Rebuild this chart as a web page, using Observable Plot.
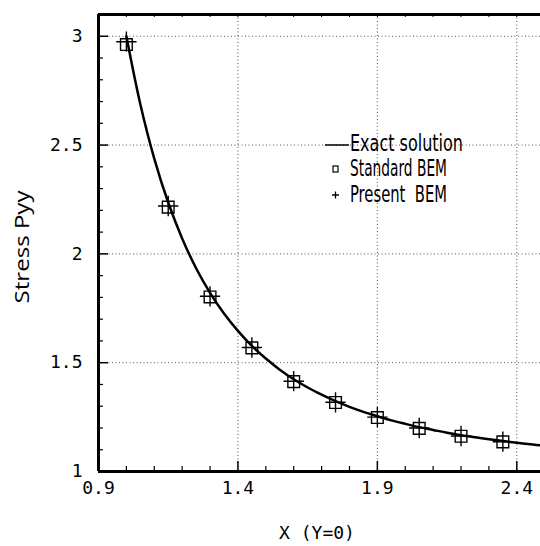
<!DOCTYPE html>
<html>
<head>
<meta charset="utf-8">
<script src="https://cdn.jsdelivr.net/npm/d3@7"></script>
<script src="https://cdn.jsdelivr.net/npm/@observablehq/plot@0.6"></script>
<style>
  html, body { margin: 0; padding: 0; background: #fff; }
  svg { display: block; }
</style>
</head>
<body>
<div id="chart"></div>
<script>
// Exact solution curve
const xExact = [1.00,1.05,1.10,1.15,1.20,1.25,1.30,1.35,1.40,1.45,1.50,1.55,1.60,1.65,1.70,1.75,1.80,1.85,1.90,1.95,2.00,2.05,2.10,2.15,2.20,2.25,2.30,2.35,2.40,2.45,2.50];
const yExact = [3.000,2.688,2.438,2.236,2.071,1.934,1.821,1.726,1.646,1.577,1.519,1.468,1.424,1.386,1.353,1.323,1.297,1.274,1.254,1.235,1.219,1.204,1.191,1.178,1.167,1.157,1.148,1.140,1.132,1.125,1.118];
// BEM sample points
const xBEM = [1.00,1.15,1.30,1.45,1.60,1.75,1.90,2.05,2.20,2.35];
const yStandard = [2.962,2.215,1.802,1.568,1.413,1.317,1.248,1.198,1.162,1.136];
const yPresent  = [2.975,2.220,1.805,1.570,1.415,1.318,1.250,1.200,1.163,1.137];
// Axis ticks
const xTicks = [0.9,1.4,1.9,2.4];
const yTicks = [1,1.5,2,2.5,3];
const xMinor = [1.0,1.1,1.2,1.3,1.5,1.6,1.7,1.8,2.0,2.1,2.2,2.3];
const yMinor = [1.1,1.2,1.3,1.4,1.6,1.7,1.8,1.9,2.1,2.2,2.3,2.4,2.6,2.7,2.8,2.9];
const xDomain = [0.9, 2.485];
const yDomain = [1, 3.1];

const exact = xExact.map((x, i) => ({x, y: yExact[i]}));
const standard = xBEM.map((x, i) => ({x, y: yStandard[i]}));
const present = xBEM.map((x, i) => ({x, y: yPresent[i]}));

const W = 540, H = 546, mL = 98, mT = 14, mR = 0, mB = 75;
const pxX = (xDomain[1] - xDomain[0]) / (W - mL - mR);
const pxY = (yDomain[1] - yDomain[0]) / (H - mT - mB);

const mono = "DejaVu Sans Mono, monospace";

const plot = Plot.plot({
  width: W, height: H,
  marginLeft: mL, marginTop: mT, marginRight: mR, marginBottom: mB,
  style: {background: "#fff", fontFamily: mono},
  x: {domain: xDomain, ticks: xTicks},
  y: {domain: yDomain, ticks: yTicks},
  marks: [
    // dotted grid
    Plot.ruleX(xTicks.slice(1), {stroke: "#555", strokeWidth: 1, strokeDasharray: "1,2.5"}),
    Plot.ruleY(yTicks.slice(1), {stroke: "#555", strokeWidth: 1, strokeDasharray: "1,2.5"}),
    // minor & major inward ticks (left)
    Plot.ruleY(yMinor, {x1: xDomain[0], x2: xDomain[0] + 5 * pxX, stroke: "#000", strokeWidth: 1.2}),
    Plot.ruleY(yTicks, {x1: xDomain[0], x2: xDomain[0] + 10 * pxX, stroke: "#000", strokeWidth: 1.5}),
    // bottom
    Plot.ruleX(xMinor, {y1: yDomain[0], y2: yDomain[0] + 5 * pxY, stroke: "#000", strokeWidth: 1.2}),
    Plot.ruleX(xTicks, {y1: yDomain[0], y2: yDomain[0] + 10 * pxY, stroke: "#000", strokeWidth: 1.5}),
    // top
    Plot.ruleX(xMinor.concat(xTicks), {y1: yDomain[1], y2: yDomain[1] - 3 * pxY, stroke: "#000", strokeWidth: 1}),
    // frame
    Plot.ruleX([xDomain[0]], {stroke: "#000", strokeWidth: 3}),
    Plot.ruleY([yDomain[0]], {stroke: "#000", strokeWidth: 3}),
    Plot.ruleY([yDomain[1]], {stroke: "#000", strokeWidth: 3}),
    // axes labels
    Plot.axisX({ticks: xTicks, tickSize: 0, tickPadding: 10, fontSize: 18, fontFamily: mono, label: null, tickFormat: d => String(d)}),
    Plot.axisY({ticks: yTicks, tickSize: 0, tickPadding: 16, fontSize: 18, fontFamily: mono, label: null, tickFormat: d => String(d)}),
    // exact curve
    Plot.line(exact, {x: "x", y: "y", stroke: "#000", strokeWidth: 2.5, curve: "catmull-rom", clip: true}),
    // Standard BEM squares
    Plot.dot(standard, {x: "x", y: "y", symbol: "square", r: 6.6, stroke: "#000", fill: "none", strokeWidth: 1.4}),
    // Present BEM plus
    Plot.dot(present, {x: "x", y: "y", symbol: "plus", r: 6.6, stroke: "#000", strokeWidth: 1.4})
  ]
});

const svg = d3.select(plot);
// Axis titles
svg.append("text")
  .attr("transform", "translate(24,247) rotate(-90)")
  .attr("text-anchor", "middle").attr("dominant-baseline", "middle")
  .attr("font-family", "Open Sans, sans-serif").attr("font-size", 20)
  .attr("textLength", 113).attr("lengthAdjust", "spacingAndGlyphs")
  .text("Stress Pyy");
svg.append("text")
  .attr("x", 317).attr("y", 534)
  .attr("text-anchor", "middle").attr("dominant-baseline", "middle")
  .attr("font-family", mono).attr("font-size", 18)
  .text("X (Y=0)");

// Legend
const lg = svg.append("g")
  .attr("font-family", "DejaVu Sans Condensed, DejaVu Sans, sans-serif")
  .attr("font-size", 23).attr("text-anchor", "start");
lg.append("line").attr("x1", 325).attr("x2", 349).attr("y1", 145).attr("y2", 145).attr("stroke", "#000").attr("stroke-width", 1.5);
lg.append("text").attr("x", 350).attr("y", 144).attr("dominant-baseline", "middle").attr("text-anchor", "start")
  .attr("textLength", 113).attr("lengthAdjust", "spacingAndGlyphs").text("Exact solution");
lg.append("rect").attr("x", 333).attr("y", 166).attr("width", 5).attr("height", 6).attr("fill", "none").attr("stroke", "#000").attr("stroke-width", 1.2);
lg.append("text").attr("x", 350).attr("y", 169).attr("dominant-baseline", "middle").attr("text-anchor", "start")
  .attr("textLength", 97).attr("lengthAdjust", "spacingAndGlyphs").text("Standard BEM");
lg.append("path").attr("d", "M332,195h7M335.5,191.5v7").attr("stroke", "#000").attr("stroke-width", 1.3);
lg.append("text").attr("x", 350).attr("y", 195).attr("dominant-baseline", "middle").attr("text-anchor", "start")
  .style("white-space", "pre")
  .attr("textLength", 97).attr("lengthAdjust", "spacingAndGlyphs").text("Present  BEM");

document.getElementById("chart").appendChild(plot);
</script>
</body>
</html>
